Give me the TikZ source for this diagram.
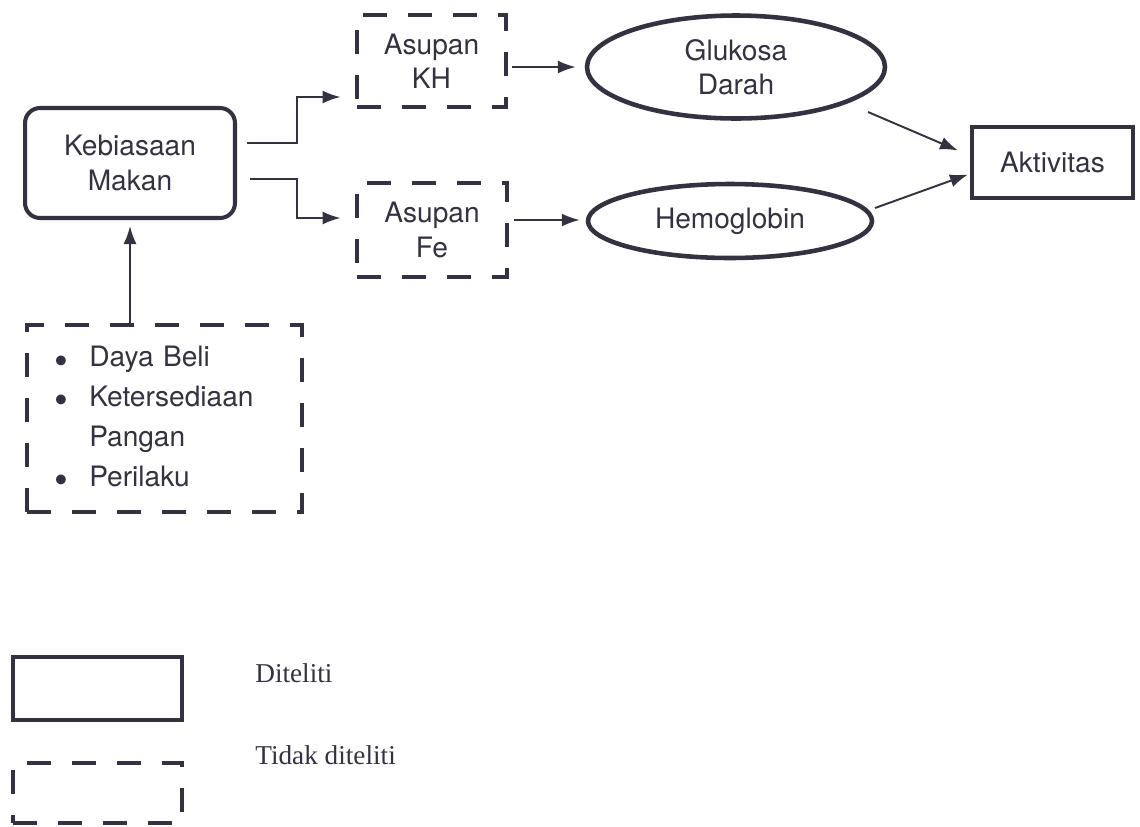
\documentclass[tikz,border=0pt]{standalone}
\usepackage{fontspec}
\setmainfont{TeX Gyre Heros}
\newfontfamily\legfont{Liberation Serif}
\usetikzlibrary{shapes.geometric,arrows.meta,calc}
\definecolor{ink}{RGB}{52,50,64}
\newcommand{\titik}{\raisebox{-0.5ex}{\scalebox{1.4}{\textbullet}}}

\begin{document}
\begin{tikzpicture}[x=0.02cm, y=-0.02cm,
    every node/.style={text=ink, font=\fontsize{16}{19.5}\selectfont, align=center, inner sep=0pt},
    solidbox/.style={draw=ink, line width=2.3pt},
    dashbox/.style={draw=ink, line width=2.8pt, dash pattern=on 0.48cm off 0.42cm},
    oval/.style={draw=ink, ellipse, line width=2.6pt},
    arr/.style={draw=ink, line width=1.1pt, -{Latex[length=0.36cm,width=0.26cm]}}]
  \useasboundingbox (0,0) rectangle (1140,826);

  % alur utama
  \node[solidbox, rounded corners=0.3cm, minimum width=4.2cm, minimum height=2.2cm] (keb) at (130,163) {Kebiasaan\\Makan};
  \node[dashbox, minimum width=2.98cm, minimum height=1.84cm] (kh) at (431.5,61) {Asupan\\KH};
  \node[dashbox, minimum width=3cm, minimum height=1.88cm] (fe) at (432,230) {Asupan\\Fe};
  \node[oval, minimum width=5.96cm, minimum height=2.06cm] (glu) at (736,67) {Glukosa\\Darah};
  \node[oval, minimum width=5.68cm, minimum height=1.48cm] (hb) at (730,221) {Hemoglobin};
  \node[solidbox, minimum width=3.22cm, minimum height=1.42cm] (akt) at (1052.5,162.5) {Aktivitas};
  \node[dashbox, minimum width=5.5cm, minimum height=3.74cm, text width=4.4cm, align=left] (fak) at (164.5,418.5)
    {\fontsize{16}{22.7}\selectfont
     \begin{tabular}{@{}l@{\hspace{0.42cm}}l@{}}
       \titik & Daya Beli\\
       \titik & Ketersediaan\\
              & Pangan\\
       \titik & Perilaku
     \end{tabular}};

  \draw[arr] ($(keb.east)+(10,-20)$) -- ++(50,0) |- ($(kh.west)+(-14,36)$);
  \draw[arr] ($(keb.east)+(13,16)$) -- ++(47,0) |- ($(fe.west)+(-14,-12)$);
  \draw[arr] (keb.south |- fak.north) -- ($(keb.south)+(0,6)$);
  \draw[arr] ($(kh.east)+(4,6)$) -- ($(glu.west)+(-9,0)$);
  \draw[arr] ($(fe.east)+(5,-10)$) -- ($(hb.west)+(-6,-1)$);
  \draw[arr] ($(glu.center)+(132,45)$) -- ($(akt.west)+(-12,-12)$);
  \draw[arr] ($(hb.center)+(145,-13)$) -- ($(akt.west)+(-2,12)$);

  % keterangan
  \node[solidbox, minimum width=3.38cm, minimum height=1.26cm] (ldit) at (97.5,688.5) {};
  \node[dashbox, minimum width=3.38cm, minimum height=1.2cm] (ltid) at (97.5,793) {};
  \node[anchor=west, font=\legfont\fontsize{15.5}{19}\selectfont] (tdit) at (255,673) {Diteliti};
  \node[anchor=west, font=\legfont\fontsize{15.5}{19}\selectfont] (ttid) at (255,755) {Tidak diteliti};
\end{tikzpicture}
\end{document}
